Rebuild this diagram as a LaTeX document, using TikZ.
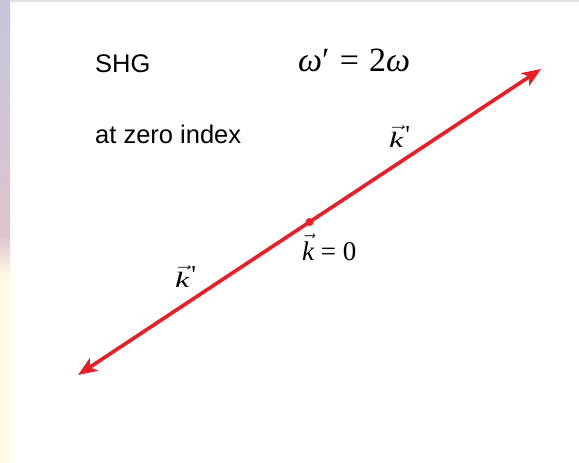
\documentclass[tikz,border=0pt]{standalone}
\usepackage{fontspec}
\setmainfont{Liberation Serif}
\newfontfamily\sansf{Liberation Sans}
\newfontfamily\kserif[Ligatures=TeXOff]{Liberation Serif}
\usetikzlibrary{arrows.meta}
\definecolor{vecred}{RGB}{234,30,38}
\definecolor{bgtop}{RGB}{196,198,218}
\definecolor{bgpink}{RGB}{222,196,206}
\definecolor{bgyel}{RGB}{253,251,228}
\definecolor{bgstrip}{RGB}{226,222,228}
\tikzset{
  vecline/.style={draw=vecred, line width=3.6pt,
    {Stealth[length=19pt,width=15pt,inset=5pt]}-{Stealth[length=19pt,width=15pt,inset=5pt]}},
  sanslabel/.style={inner sep=0pt, anchor=base west, font=\sansf\fontsize{25.5}{30}\selectfont},
  kvec/.style={inner sep=0pt, anchor=base west, font=\kserif\fontsize{22}{26}\selectfont},
  mathlab/.style={inner sep=0pt, anchor=base west},
}
\newcommand{\kv}{$\vec{\mbox{\itshape k}}$}
\newcommand{\kprime}{\scalebox{1.45}[1]{\kv}\kern2pt\raisebox{4pt}{\fontsize{26}{30}\selectfont '}}
\begin{document}
\begin{tikzpicture}[x=1pt,y=1pt]
\useasboundingbox (0,0) rectangle (579,-463);
\fill[white] (0,0) rectangle (579,-463);
% blurred background at the edges
\shade[top color=bgtop, bottom color=bgpink] (0,0) rectangle (10,-235);
\shade[top color=bgpink, bottom color=bgyel] (0,-235) rectangle (10,-275);
\fill[bgyel] (0,-275) rectangle (10,-463);
\fill[bgstrip] (10,0) rectangle (579,-2);
% texts
\node[sanslabel] (shg) at (95,-72) {SHG};
\node[sanslabel] (zero) at (95,-143) {at zero index};
\node[mathlab, font=\fontsize{34}{40}\selectfont] (omega) at (298,-71) {\textit{ω}′\hspace{0.3em}=\hspace{0.3em}2\textit{ω}};
% arrow line
\coordinate (a) at (78,-375);
\coordinate (b) at (541,-69);
\draw[vecline] (a) -- (b);
\node[circle, fill=vecred, inner sep=0pt, minimum size=8pt] (o) at (309.5,-222) {};
\node[mathlab, font=\fontsize{27}{32}\selectfont] (k0) at (302,-260) {\kv{} = 0};
\node[kvec] (kup) at (389,-147) {\kprime};
\node[kvec] (kdn) at (175,-287) {\kprime};
\end{tikzpicture}
\end{document}
